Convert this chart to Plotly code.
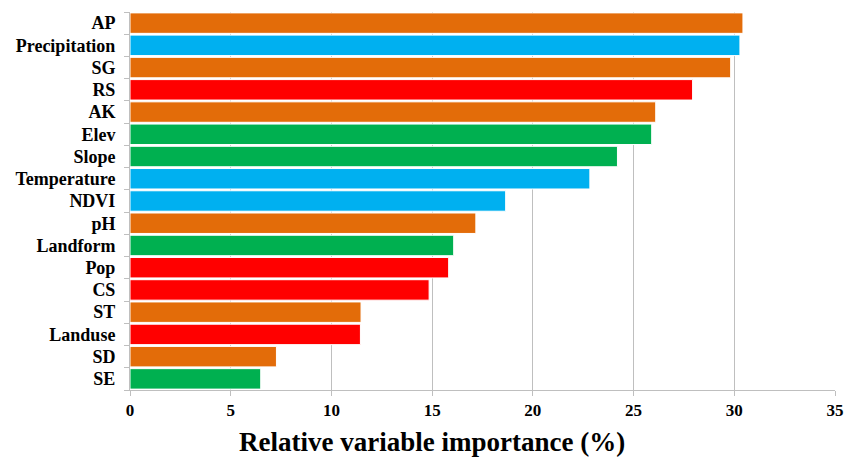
import plotly.graph_objects as go

categories = ["AP", "Precipitation", "SG", "RS", "AK", "Elev", "Slope", "Temperature",
              "NDVI", "pH", "Landform", "Pop", "CS", "ST", "Landuse", "SD", "SE"]
values = [30.43, 30.28, 29.82, 27.93, 26.1, 25.9, 24.2, 22.83,
          18.65, 17.17, 16.07, 15.82, 14.85, 11.47, 11.44, 7.27, 6.49]
groups = ["soil", "climate", "soil", "human", "soil", "terrain", "terrain", "climate",
          "climate", "soil", "terrain", "human", "human", "soil", "human", "soil", "terrain"]
group_colors = {"soil": "#E36C09", "climate": "#00B0F0", "human": "#FF0000", "terrain": "#00B050"}
x_ticks = [0, 5, 10, 15, 20, 25, 30, 35]

colors = [group_colors[g] for g in groups]

fig = go.Figure(go.Bar(
    x=values, y=categories, orientation="h",
    marker=dict(color=colors, line=dict(color="white", width=1)),
))

serif = "Liberation Serif, Times New Roman, serif"
L, R, T, B, W, H = 130, 10, 12, 69, 845, 459
pw, ph = W - L - R, H - T - B
fig.update_layout(
    width=W, height=H,
    margin=dict(l=L, r=R, t=T, b=B, autoexpand=False),
    plot_bgcolor="white", paper_bgcolor="white",
    bargap=0.08,
    showlegend=False,
    xaxis=dict(
        range=[0, 35], tickvals=x_ticks, showgrid=True, gridcolor="#BFBFBF", gridwidth=1,
        zeroline=False, showline=True, linecolor="#BFBFBF", linewidth=1,
        ticks="outside", ticklen=5, tickcolor="#BFBFBF", automargin=False,
        tickfont=dict(family=serif, size=17, color="black", weight="bold"),
    ),
    yaxis=dict(
        categoryorder="array", categoryarray=categories[::-1],
        showline=True, linecolor="#BFBFBF", linewidth=1, automargin=False,
        ticks="outside", ticklen=5, tickcolor="#BFBFBF", tickson="boundaries",
        ticklabelstandoff=10,
        tickfont=dict(family=serif, size=18, color="black", weight="bold"),
        showgrid=False,
    ),
    annotations=[dict(
        text="Relative variable importance (%)",
        x=(432 - L) / pw, y=-(442 - (T + ph)) / ph, xref="paper", yref="paper",
        showarrow=False, font=dict(family=serif, size=27, color="black", weight="bold"),
        xanchor="center", yanchor="middle",
    )],
)

fig.write_html("out.html", config={"displayModeBar": False},
               post_script="document.body.style.margin='0';document.body.style.overflow='hidden';")
